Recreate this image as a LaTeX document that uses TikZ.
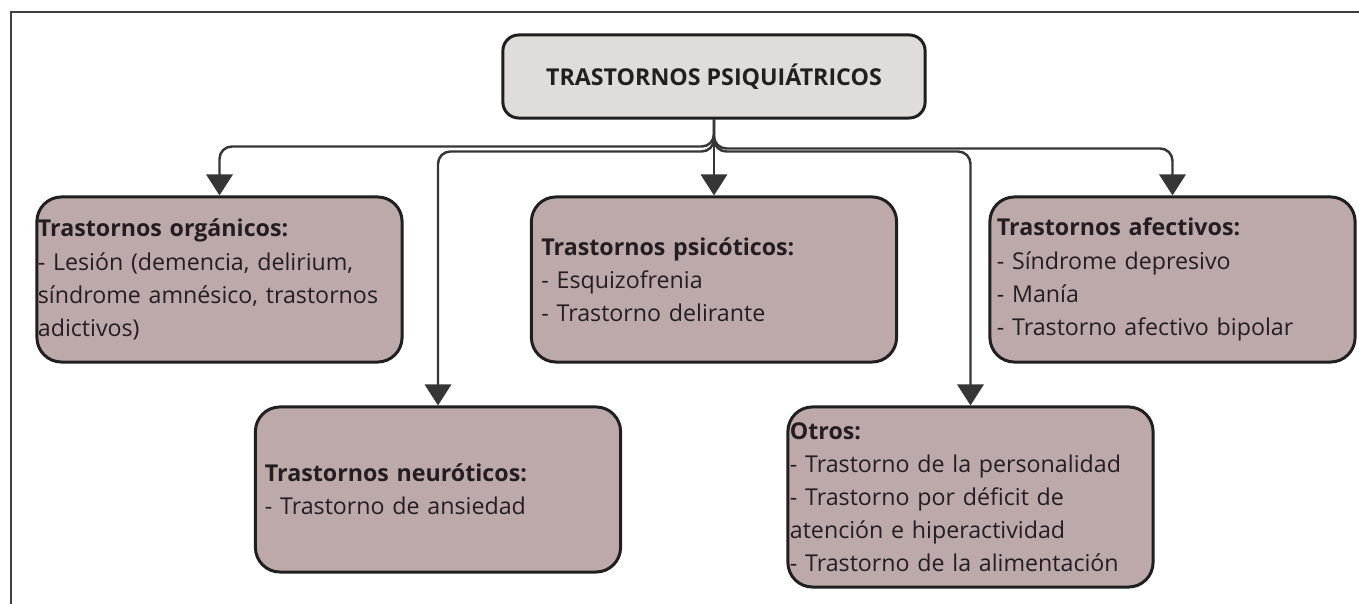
\documentclass[tikz,border=0pt]{standalone}
\usepackage{fontspec}
\setmainfont{Open Sans}
\usepackage{xcolor}
\usetikzlibrary{arrows.meta,positioning}
\definecolor{catfill}{HTML}{BDA9A9}
\definecolor{rootfill}{HTML}{E0DCDB}
\definecolor{edgegray}{HTML}{363636}
\definecolor{inkdark}{HTML}{231E1F}

\begin{document}
\begin{tikzpicture}[x=0.01cm,y=-0.01cm,>={Triangle[length=6pt,width=7.5pt]},node distance=1cm]
\tikzstyle{every node}=[font=\fontsize{6.6}{9.4}\selectfont,text=inkdark]
\tikzstyle{root}=[draw=black!88,line width=0.85pt,fill=rootfill,rounded corners=4.5pt,minimum width=4.22cm,minimum height=0.83cm,inner sep=0pt,font=\fontsize{6.6}{9.4}\selectfont\bfseries]
\tikzstyle{cat}=[draw=black!88,line width=0.85pt,fill=catfill,rounded corners=7pt,minimum width=3.65cm,minimum height=1.65cm,inner xsep=0pt,align=left]
\tikzstyle{conn}=[->,draw=edgegray,line width=0.7pt,rounded corners=3.5pt]
\useasboundingbox (0,0) rectangle (1359,604);
% frame
\draw[black!75,line width=0.4pt] (1359,12) -- (11,12) -- (11,604);
% boxes
\node[root] (root) at (714,76.5) {TRASTORNOS PSIQUIÁTRICOS};
\node[cat,text width=3.63cm] (org) at (219.5,279.5) {\textbf{Trastornos orgánicos:}\\- Lesión (demencia, delirium,\\síndrome amnésico, trastornos\\adictivos)};
\node[cat,text width=3.45cm] (psi) at (714,279.5) {\textbf{Trastornos psicóticos:}\\- Esquizofrenia\\- Trastorno delirante};
\node[cat,text width=3.51cm] (afe) at (1172.5,279.5) {\textbf{Trastornos afectivos:}\\- Síndrome depresivo\\- Manía\\- Trastorno afectivo bipolar};
\node[cat,text width=3.46cm] (neu) at (438,489.5) {\textbf{Trastornos neuróticos:}\\- Trastorno de ansiedad};
\node[cat,text width=3.61cm,minimum height=1.8cm] (otr) at (970.5,497) {\textbf{Otros:}\\- Trastorno de la personalidad\\- Trastorno por déficit de\\atención e hiperactividad\\- Trastorno de la alimentación};
% connectors
\draw[conn] (root.south) -- ++(0,27) -| (org.north);
\draw[conn] (root.south) -- ++(0,32) -| (neu.north);
\draw[conn] (root.south) -- (psi.north);
\draw[conn] (root.south) -- ++(0,29) -| (afe.north);
\draw[conn] (root.south) -- ++(0,32) -| (otr.north);
\end{tikzpicture}
\end{document}
